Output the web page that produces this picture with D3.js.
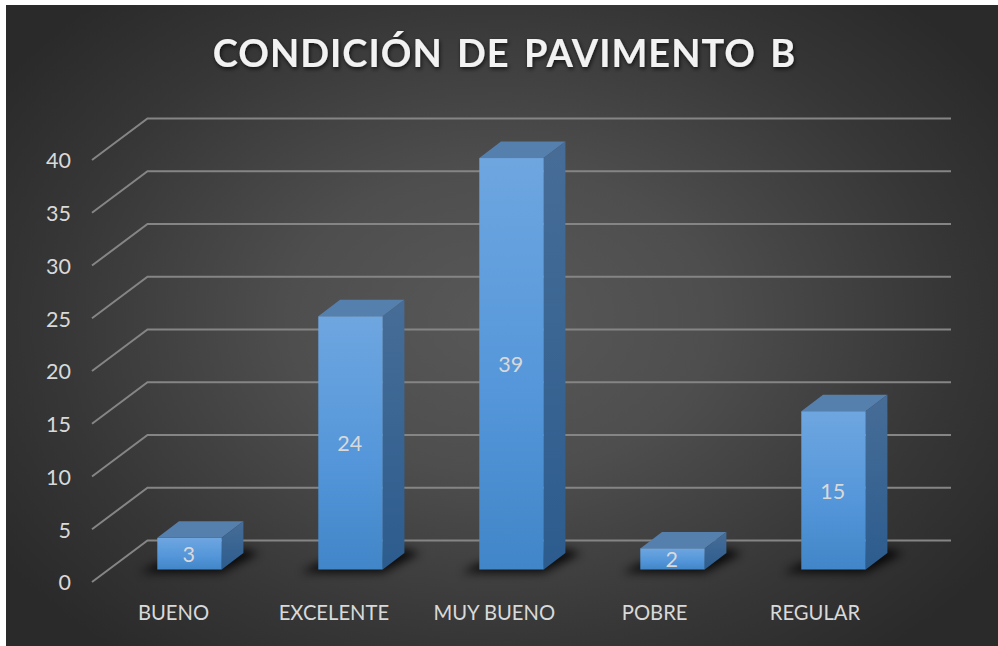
<!DOCTYPE html>
<html><head><meta charset="utf-8">
<script src="https://cdnjs.cloudflare.com/ajax/libs/d3/7.8.5/d3.min.js"></script>
<style>html,body{margin:0;padding:0;background:#fff}svg{display:block}text{font-family:Lato,"Open Sans",sans-serif}</style>
</head><body><svg id="c" width="998" height="646"></svg>
<script>
const chartTitle = "CONDICIÓN DE PAVIMENTO B";
const categories = ["BUENO","EXCELENTE","MUY BUENO","POBRE","REGULAR"];
const values = [3,24,39,2,15];
const yTicks = [0,5,10,15,20,25,30,35,40];

const svg = d3.select("#c");
const defs = svg.append("defs");
const stops = (g,a)=>a.forEach(([o,c])=>g.append("stop").attr("offset",o).attr("stop-color",c));
const grad=(id,a)=>stops(defs.append("linearGradient").attr("id",id).attr("x1",0).attr("y1",0).attr("x2",0).attr("y2",1),a);
stops(defs.append("radialGradient").attr("id","bg").attr("gradientUnits","userSpaceOnUse")
  .attr("cx",500).attr("cy",320).attr("r",600).attr("gradientTransform","translate(500 320) scale(1 .72) translate(-500 -320)"),
  [[0,"#585858"],[.35,"#4e4e4e"],[.75,"#363636"],[1,"#2a2a2a"]]);
grad("front",[[0,"#6ea6e0"],[.55,"#5597da"],[1,"#4186c8"]]);
grad("side",[[0,"#476d97"],[1,"#2c5c8e"]]);
defs.append("filter").attr("id","blur").attr("x","-40%").attr("y","-150%").attr("width","180%").attr("height","400%")
  .append("feGaussianBlur").attr("stdDeviation",5);
const ts=defs.append("filter").attr("id","tshadow").attr("x","-5%").attr("y","-20%").attr("width","110%").attr("height","150%");
ts.append("feDropShadow").attr("dx",1).attr("dy",2).attr("stdDeviation",2).attr("flood-color","#000").attr("flood-opacity",.7);

svg.append("rect").attr("x",6).attr("y",5).attr("width",992).attr("height",641).attr("fill","url(#bg)");

const x = d3.scaleBand().domain(categories).range([109,914]).paddingInner(.6).paddingOuter(.3);
const labelX = d3.scalePoint().domain(categories).range([173.5,815]);
const y = d3.scaleLinear().domain([0,40]).range([582,160]);
const barBase = 569.5, barDX = 21.7, barDY = -16.5;
const h = v => y(0)-y(v);
const gridDX = 55.5, gridDY = -41.5, gridEnd = 951, gridStart = 92;

// gridlines
svg.append("g").selectAll("path").data(yTicks).join("path")
  .attr("d",d=>`M${gridStart},${y(d)}L${gridStart+gridDX},${y(d)+gridDY}L${gridEnd},${y(d)+gridDY}`)
  .attr("fill","none").attr("stroke","#858585").attr("stroke-width",2);

// y labels
svg.append("g").selectAll("text").data(yTicks).join("text")
  .attr("x",71).attr("y",d=>y(d)+0.7).attr("dy","0.36em").attr("text-anchor","end")
  .attr("font-size",21.5).attr("fill","#d9d9d9").text(d=>d);

// shadows
svg.append("g").selectAll("path").data(categories).join("path")
  .attr("d",c=>{const l=x(c),r=l+x.bandwidth();return `M${l-18},${barBase+3}L${r},${barBase+3}L${r+barDX+16},${barBase+barDY}L${r+barDX},${barBase+barDY-4}L${l},${barBase-6}Z`;})
  .attr("fill","#000").attr("opacity",.85).attr("filter","url(#blur)");

// bars
const bars = svg.append("g").selectAll("g").data(categories.map((c,i)=>({c,v:values[i]}))).join("g");
bars.append("path").attr("fill","#557fad")
  .attr("d",d=>{const l=x(d.c),r=l+x.bandwidth(),t=barBase-h(d.v);return `M${l},${t}L${l+barDX},${t+barDY}L${r+barDX},${t+barDY}L${r},${t}Z`;});
bars.append("path").attr("fill","url(#side)")
  .attr("d",d=>{const r=x(d.c)+x.bandwidth(),t=barBase-h(d.v);return `M${r},${t}L${r+barDX},${t+barDY}L${r+barDX},${barBase+barDY}L${r},${barBase}Z`;});
bars.append("rect").attr("fill","url(#front)")
  .attr("x",d=>x(d.c)).attr("width",x.bandwidth()).attr("y",d=>barBase-h(d.v)).attr("height",d=>h(d.v));
bars.append("text").attr("x",d=>x(d.c)+x.bandwidth()/2-0.7).attr("y",d=>barBase-h(d.v)/2+0.7).attr("dy","0.36em")
  .attr("text-anchor","middle").attr("font-size",21.5).attr("fill","#d9d9d9").text(d=>d.v);

// category labels
svg.append("g").selectAll("text").data(categories).join("text")
  .attr("x",c=>labelX(c)).attr("y",613).attr("dy","0.36em")
  .attr("text-anchor","middle").attr("font-size",20.2).attr("fill","#d9d9d9").text(c=>c);

// title
svg.append("text").attr("x",504.5).attr("y",53).attr("dy","0.36em").attr("text-anchor","middle")
  .attr("font-size",38).attr("font-weight",700).attr("letter-spacing",1.0).attr("word-spacing",4)
  .attr("fill","#f2f2f2").attr("filter","url(#tshadow)").text(chartTitle);
</script></body></html>
